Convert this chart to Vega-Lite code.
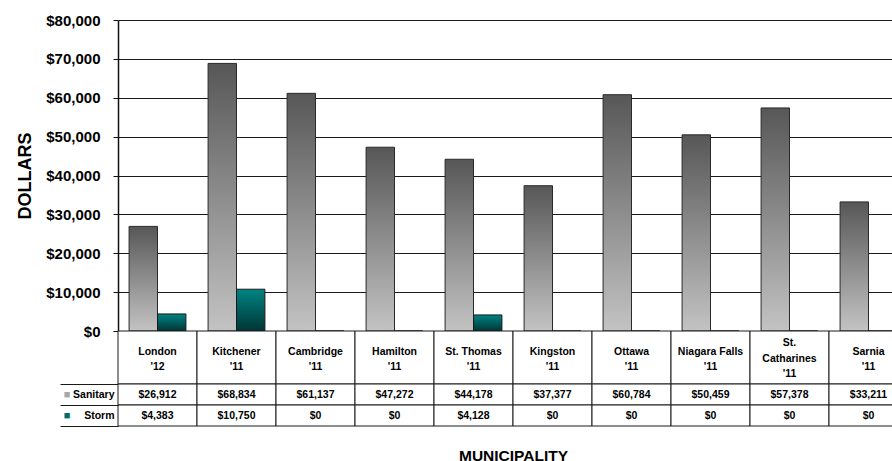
{
  "$schema": "https://vega.github.io/schema/vega-lite/v6.json",
  "background": "white",
  "padding": {"left": 16, "top": 13, "right": 0, "bottom": 0},
  "datasets": {
    "rows": [
      {"municipality": "London|'12", "type": "Sanitary", "value": 26912},
      {"municipality": "London|'12", "type": "Storm", "value": 4383},
      {"municipality": "Kitchener|'11", "type": "Sanitary", "value": 68834},
      {"municipality": "Kitchener|'11", "type": "Storm", "value": 10750},
      {"municipality": "Cambridge|'11", "type": "Sanitary", "value": 61137},
      {"municipality": "Cambridge|'11", "type": "Storm", "value": 0},
      {"municipality": "Hamilton|'11", "type": "Sanitary", "value": 47272},
      {"municipality": "Hamilton|'11", "type": "Storm", "value": 0},
      {"municipality": "St. Thomas|'11", "type": "Sanitary", "value": 44178},
      {"municipality": "St. Thomas|'11", "type": "Storm", "value": 4128},
      {"municipality": "Kingston|'11", "type": "Sanitary", "value": 37377},
      {"municipality": "Kingston|'11", "type": "Storm", "value": 0},
      {"municipality": "Ottawa|'11", "type": "Sanitary", "value": 60784},
      {"municipality": "Ottawa|'11", "type": "Storm", "value": 0},
      {"municipality": "Niagara Falls|'11", "type": "Sanitary", "value": 50459},
      {"municipality": "Niagara Falls|'11", "type": "Storm", "value": 0},
      {"municipality": "St.|Catharines|'11", "type": "Sanitary", "value": 57378},
      {"municipality": "St.|Catharines|'11", "type": "Storm", "value": 0},
      {"municipality": "Sarnia|'11", "type": "Sanitary", "value": 33211},
      {"municipality": "Sarnia|'11", "type": "Storm", "value": 0}
    ]
  },
  "spacing": 0,
  "bounds": "flush",
  "vconcat": [
    {
      "width": 790,
      "height": 311,
      "data": {"name": "rows"},
      "encoding": {
        "x": {
          "field": "municipality", "type": "nominal", "sort": null,
          "scale": {"paddingInner": 0, "paddingOuter": 0},
          "axis": null
        },
        "xOffset": {
          "field": "type", "type": "nominal",
          "scale": {"domain": ["Sanitary", "Storm"], "paddingInner": 0, "paddingOuter": 0.39}
        },
        "y": {
          "field": "value", "type": "quantitative",
          "scale": {"domain": [0, 80000], "nice": false},
          "axis": {
            "title": "DOLLARS",
            "titleFontSize": 18,
            "titleFontWeight": "bold",
            "titlePadding": 11,
            "values": [0, 10000, 20000, 30000, 40000, 50000, 60000, 70000, 80000],
            "format": "$,.0f",
            "labelFontSize": 15,
            "labelFontWeight": "bold",
            "labelPadding": 13,
            "tickSize": 5,
            "tickColor": "#111",
            "domainColor": "#111",
            "domainWidth": 1.5,
            "grid": true,
            "gridColor": "#1a1a1a",
            "gridWidth": 1
          }
        }
      },
      "layer": [
        {
          "transform": [{"filter": "datum.type === 'Sanitary'"}],
          "mark": {
            "type": "bar",
            "stroke": "#2a2a2a",
            "strokeWidth": 1,
            "fill": {
              "gradient": "linear", "x1": 0, "y1": 0, "x2": 0, "y2": 1,
              "stops": [
                {"offset": 0, "color": "#575757"},
                {"offset": 1, "color": "#c3c3c3"}
              ]
            }
          }
        },
        {
          "transform": [{"filter": "datum.type === 'Storm'"}],
          "mark": {
            "type": "bar",
            "stroke": "#1a1a1a",
            "strokeWidth": 1,
            "fill": {
              "gradient": "linear", "x1": 0, "y1": 0, "x2": 0, "y2": 1,
              "stops": [
                {"offset": 0, "color": "#008383"},
                {"offset": 1, "color": "#003535"}
              ]
            }
          }
        }
      ]
    },
    {
      "width": 790,
      "height": 53,
      "data": {"name": "rows"},
      "transform": [{"filter": "datum.type === 'Sanitary'"}],
      "encoding": {
        "x": {
          "field": "municipality", "type": "nominal", "sort": null,
          "scale": {
            "domain": ["London|'12", "Kitchener|'11", "Cambridge|'11", "Hamilton|'11", "St. Thomas|'11", "Kingston|'11", "Ottawa|'11", "Niagara Falls|'11", "St.|Catharines|'11", "Sarnia|'11"],
            "paddingInner": 0, "paddingOuter": 0
          },
          "axis": null
        }
      },
      "layer": [
        {
          "mark": {"type": "rect", "fill": "white", "stroke": "#1a1a1a", "strokeWidth": 1}
        },
        {
          "transform": [{"filter": "indexof(datum.municipality, 'Catharines') < 0"}],
          "mark": {"type": "text", "lineBreak": "|", "lineHeight": 15, "baseline": "top", "dy": -10.5, "fontSize": 10.5, "fontWeight": "bold", "color": "black"},
          "encoding": {"text": {"field": "municipality"}}
        },
        {
          "transform": [{"filter": "indexof(datum.municipality, 'Catharines') >= 0"}],
          "mark": {"type": "text", "lineBreak": "|", "lineHeight": 15.5, "baseline": "top", "dy": -19.5, "fontSize": 10.5, "fontWeight": "bold", "color": "black"},
          "encoding": {"text": {"field": "municipality"}}
        }
      ]
    },
    {
      "width": 790,
      "height": 42,
      "data": {"name": "rows"},
      "encoding": {
        "x": {
          "field": "municipality", "type": "nominal", "sort": null,
          "scale": {"paddingInner": 0, "paddingOuter": 0},
          "axis": {
            "title": "MUNICIPALITY",
            "titleFontSize": 15.5,
            "titleFontWeight": "bold",
            "titlePadding": 22,
            "labels": false,
            "ticks": false,
            "domain": false,
            "grid": false
          }
        }
      },
      "layer": [
        {
          "mark": {"type": "rect", "fill": "white", "stroke": "#1a1a1a", "strokeWidth": 1},
          "encoding": {
            "y": {
              "field": "type", "type": "nominal",
              "scale": {"domain": ["Sanitary", "Storm"], "paddingInner": 0, "paddingOuter": 0},
              "axis": {
                "orient": "left",
                "title": null,
                "tickBand": "extent",
                "tickSize": 58,
                "tickColor": "#1a1a1a",
                "labelPadding": -54,
                "domain": false,
                "grid": false,
                "labelFontSize": 10.5,
                "labelFontWeight": "bold"
              }
            }
          }
        },
        {
          "mark": {"type": "text", "fontSize": 10.5, "fontWeight": "bold", "color": "black"},
          "encoding": {
            "text": {"field": "value", "type": "quantitative", "format": "$,.0f"},
            "y": {
              "field": "type", "type": "nominal",
              "axis": {
                "orient": "left",
                "title": null,
                "labelExpr": "'■'",
                "labelColor": {"condition": {"test": "datum.value === 'Storm'", "value": "#006e6e"}, "value": "#a6a6a6"},
                "labelFontSize": 11,
                "labelPadding": 48,
                "ticks": false,
                "domain": false,
                "grid": false
              }
            }
          }
        }
      ],
      "resolve": {"axis": {"y": "independent"}}
    }
  ],
  "config": {
    "font": "Liberation Sans",
    "view": {"stroke": null},
    "axis": {"labelColor": "#000", "titleColor": "#000", "labelFont": "Liberation Sans", "titleFont": "Liberation Sans"},
    "text": {"font": "Liberation Sans"}
  }
}
